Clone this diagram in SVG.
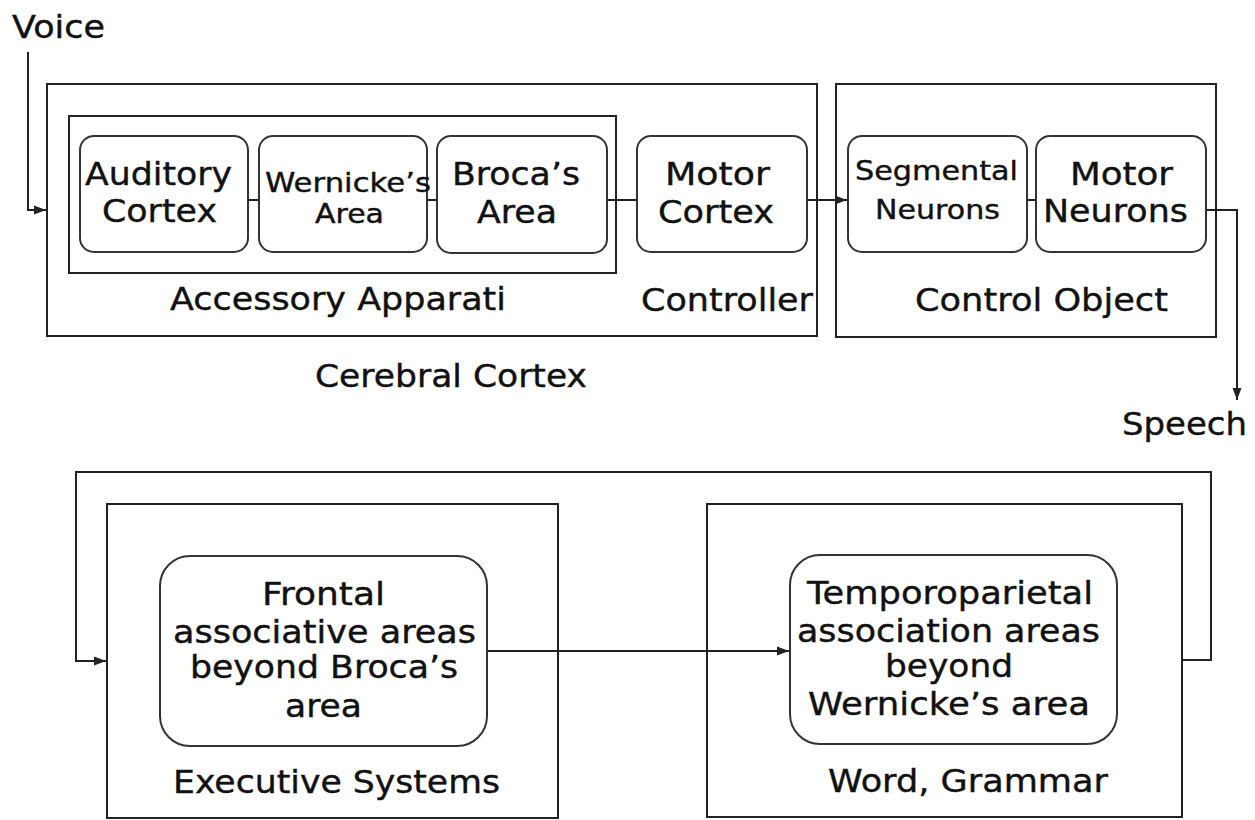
<svg xmlns="http://www.w3.org/2000/svg" width="1255" height="820" viewBox="0 0 1255 820">
<defs>
<style>
.box{fill:none;stroke:#222;stroke-width:2}
.rbox{fill:#fff;stroke:#333;stroke-width:2}
.ln{fill:none;stroke:#222;stroke-width:2}
.t{font-family:"DejaVu Sans",Verdana,sans-serif;font-size:32px;fill:#111;stroke:#111;stroke-width:0.4}
.s{font-size:27px}
</style>
<marker id="ah" markerUnits="userSpaceOnUse" markerWidth="13" markerHeight="10" refX="12" refY="5" orient="auto">
<path d="M0,0.5 L12,5 L0,9.5 z" fill="#222"/>
</marker>
</defs>
<rect width="1255" height="820" fill="#fff"/>

<g id="connectors">
<path class="ln" d="M28,52 V210 H46" marker-end="url(#ah)"/>
<path class="ln" d="M248,200 H259"/>
<path class="ln" d="M427,200 H437"/>
<path class="ln" d="M607,200 H637"/>
<path class="ln" d="M807,200 H847" marker-end="url(#ah)"/>
<path class="ln" d="M1027,200 H1036"/>
<path class="ln" d="M1206,210 H1237 V400" marker-end="url(#ah)"/>
<path class="ln" d="M487,651 H789" marker-end="url(#ah)"/>
<path class="ln" d="M1182,660 H1211 V472 H76 V661 H106" marker-end="url(#ah)"/>
</g>

<g id="voice"><text class="t" x="12" y="38" textLength="93" lengthAdjust="spacingAndGlyphs">Voice</text></g>
<g id="speech"><text class="t" x="1122" y="435" textLength="125" lengthAdjust="spacingAndGlyphs">Speech</text></g>

<g id="cerebral-cortex">
<rect class="box" x="47" y="84" width="770" height="252"/>
<text class="t" x="315" y="387" textLength="272" lengthAdjust="spacingAndGlyphs">Cerebral Cortex</text>
</g>

<g id="accessory-apparati">
<rect class="box" x="69" y="116" width="547" height="157"/>
<text class="t" x="170" y="310" textLength="336" lengthAdjust="spacingAndGlyphs">Accessory Apparati</text>
</g>

<g id="controller">
<text class="t" x="641" y="311" textLength="172" lengthAdjust="spacingAndGlyphs">Controller</text>
</g>

<g id="auditory-cortex">
<rect class="rbox" x="80" y="136" width="168" height="116" rx="14"/>
<text class="t" x="85" y="185" textLength="147" lengthAdjust="spacingAndGlyphs">Auditory</text>
<text class="t" x="102" y="222" textLength="115" lengthAdjust="spacingAndGlyphs">Cortex</text>
</g>

<g id="wernickes-area">
<rect class="rbox" x="259" y="136" width="168" height="116" rx="14"/>
<text class="t s" x="265" y="192" textLength="166" lengthAdjust="spacingAndGlyphs">Wernicke’s</text>
<text class="t s" x="315" y="223" textLength="69" lengthAdjust="spacingAndGlyphs">Area</text>
</g>

<g id="brocas-area">
<rect class="rbox" x="437" y="136" width="170" height="117" rx="14"/>
<text class="t" x="452" y="185" textLength="128" lengthAdjust="spacingAndGlyphs">Broca’s</text>
<text class="t" x="477" y="223" textLength="80" lengthAdjust="spacingAndGlyphs">Area</text>
</g>

<g id="motor-cortex">
<rect class="rbox" x="637" y="136" width="170" height="116" rx="14"/>
<text class="t" x="665" y="185" textLength="105" lengthAdjust="spacingAndGlyphs">Motor</text>
<text class="t" x="658" y="223" textLength="116" lengthAdjust="spacingAndGlyphs">Cortex</text>
</g>

<g id="control-object">
<rect class="box" x="836" y="84" width="380" height="253"/>
<text class="t" x="915" y="311" textLength="253" lengthAdjust="spacingAndGlyphs">Control Object</text>
</g>

<g id="segmental-neurons">
<rect class="rbox" x="848" y="136" width="179" height="116" rx="14"/>
<text class="t s" x="855" y="180" textLength="163" lengthAdjust="spacingAndGlyphs">Segmental</text>
<text class="t s" x="875" y="219" textLength="125" lengthAdjust="spacingAndGlyphs">Neurons</text>
</g>

<g id="motor-neurons">
<rect class="rbox" x="1036" y="136" width="170" height="116" rx="14"/>
<text class="t" x="1070" y="185" textLength="103" lengthAdjust="spacingAndGlyphs">Motor</text>
<text class="t" x="1043" y="222" textLength="145" lengthAdjust="spacingAndGlyphs">Neurons</text>
</g>

<g id="executive-systems">
<rect class="box" x="107" y="504" width="451" height="314"/>
<text class="t" x="173" y="793" textLength="327" lengthAdjust="spacingAndGlyphs">Executive Systems</text>
</g>

<g id="frontal-areas">
<rect class="rbox" x="160" y="556" width="327" height="190" rx="30"/>
<text class="t" x="262" y="605" textLength="123" lengthAdjust="spacingAndGlyphs">Frontal</text>
<text class="t" x="173" y="643" textLength="303" lengthAdjust="spacingAndGlyphs">associative areas</text>
<text class="t" x="190" y="678" textLength="268" lengthAdjust="spacingAndGlyphs">beyond Broca’s</text>
<text class="t" x="285" y="717" textLength="77" lengthAdjust="spacingAndGlyphs">area</text>
</g>

<g id="word-grammar">
<rect class="box" x="707" y="504" width="475" height="313"/>
<text class="t" x="828" y="792" textLength="280" lengthAdjust="spacingAndGlyphs">Word, Grammar</text>
</g>

<g id="temporoparietal-areas">
<rect class="rbox" x="790" y="555" width="327" height="189" rx="30"/>
<text class="t" x="807" y="604" textLength="286" lengthAdjust="spacingAndGlyphs">Temporoparietal</text>
<text class="t" x="797" y="642" textLength="303" lengthAdjust="spacingAndGlyphs">association areas</text>
<text class="t" x="885" y="677" textLength="128" lengthAdjust="spacingAndGlyphs">beyond</text>
<text class="t" x="808" y="715" textLength="282" lengthAdjust="spacingAndGlyphs">Wernicke’s area</text>
</g>
</svg>
